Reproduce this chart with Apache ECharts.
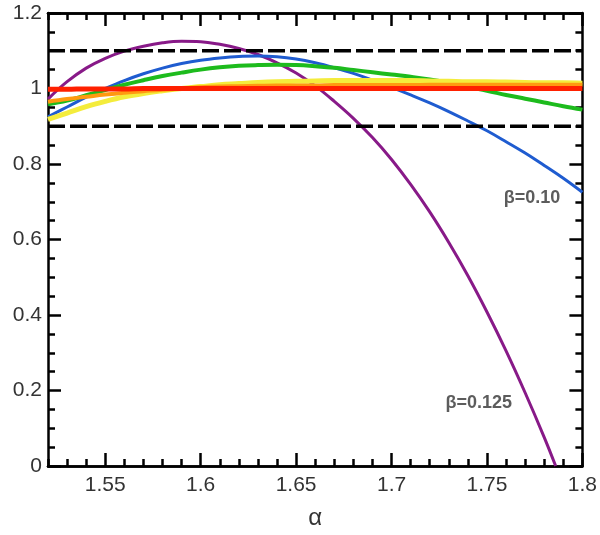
<!DOCTYPE html>
<html>
<head>
<meta charset="utf-8">
<script src="https://cdn.jsdelivr.net/npm/echarts@6/dist/echarts.min.js"></script>
<style>
html,body{margin:0;padding:0;background:#fff;}
#chart{width:600px;height:535px;}
</style>
</head>
<body>
<div id="chart"></div>
<script>
// ---- data ----
var alpha = [1.52,1.53,1.54,1.55,1.56,1.57,1.58,1.59,1.60,1.61,1.62,1.63,1.64,1.65,1.66,1.67,1.68,1.69,1.70,1.71,1.72,1.73,1.74,1.75,1.76,1.77,1.78,1.79,1.80];
var alphaPurple = [1.52,1.53,1.54,1.55,1.56,1.57,1.58,1.59,1.60,1.61,1.62,1.63,1.64,1.65,1.66,1.67,1.68,1.69,1.70,1.71,1.72,1.73,1.74,1.75,1.76,1.77,1.78,1.786];
var purpleVals = [0.972,1.018,1.054,1.080,1.099,1.112,1.121,1.125,1.124,1.117,1.106,1.090,1.068,1.041,1.007,0.966,0.921,0.870,0.812,0.746,0.673,0.592,0.504,0.408,0.305,0.194,0.076,0.0];
var blueVals   = [0.925,0.951,0.977,1.000,1.021,1.039,1.054,1.066,1.075,1.081,1.085,1.086,1.084,1.078,1.068,1.055,1.040,1.022,1.003,0.983,0.962,0.939,0.914,0.888,0.859,0.829,0.796,0.762,0.725];
var greenVals  = [0.958,0.968,0.982,0.996,1.010,1.022,1.033,1.042,1.050,1.056,1.060,1.062,1.063,1.062,1.059,1.055,1.049,1.043,1.037,1.031,1.024,1.015,1.004,0.994,0.983,0.973,0.963,0.953,0.944];
var yellowVals = [0.918,0.935,0.952,0.966,0.978,0.987,0.994,1.000,1.005,1.010,1.013,1.016,1.018,1.019,1.020,1.021,1.021,1.021,1.021,1.021,1.020,1.019,1.018,1.018,1.017,1.016,1.015,1.015,1.014];
var orangeVals = [0.965,0.972,0.978,0.984,0.989,0.993,0.997,1.000,1.003,1.005,1.006,1.007,1.008,1.008,1.008,1.009,1.009,1.009,1.009,1.009,1.010,1.010,1.010,1.010,1.010,1.010,1.010,1.010,1.010];
var redVals    = [0.998,0.998,0.999,0.999,0.999,1.000,1.000,1.000,1.000,1.000,1.000,1.000,1.000,1.000,1.000,1.000,1.000,1.000,1.000,1.000,1.000,1.000,1.000,1.000,1.000,1.000,1.000,1.000,1.000];
var boundX = [1.52, 1.80];
var upperBound = [1.1, 1.1];
var lowerBound = [0.9, 0.9];
var xMajorTicks = [1.55,1.60,1.65,1.70,1.75,1.80];
var xLabels = ['1.55','1.6','1.65','1.7','1.75','1.8'];
var annotations = [
  {text:'\u03b2=0.10', x:1.7736, y:0.710},
  {text:'\u03b2=0.125', x:1.7457, y:0.168}
];

function pairs(xs, ys){ var out=[]; for(var i=0;i<ys.length;i++){ out.push([xs[i], ys[i]]); } return out; }

var FONT = '"Liberation Sans", Arial, sans-serif';
var lineBlack = {color:'#000', width:2.5};

function xAxisDef(pos, major, showLabel){
  return {
    type:'value', position:pos, min:1.52, max:1.80,
    interval: major ? undefined : 0.01,
    axisLine:{show:true, onZero:false, lineStyle:lineBlack},
    axisTick: major ? {show:true, inside:true, length:13, lineStyle:{color:'#000', width:2.5}, customValues:xMajorTicks}
                    : {show:true, inside:true, length:7, lineStyle:{color:'#000', width:2.5}},
    axisLabel: showLabel ? {show:true, customValues:xMajorTicks, margin:9, color:'#333', fontSize:21, fontFamily:FONT,
                 formatter:function(v){ var i = xMajorTicks.indexOf(Math.round(v*100)/100); return i>=0 ? xLabels[i] : ''; }}
                         : {show:false},
    splitLine:{show:false},
    name: showLabel ? '\u03b1' : '',
    nameLocation:'middle', nameGap:40,
    nameTextStyle:{color:'#333', fontSize:24, fontFamily:FONT}
  };
}
function yAxisDef(pos, showLabel){
  return {
    type:'value', position:pos, min:0, max:1.2, interval:0.2,
    axisLine:{show:true, onZero:false, lineStyle:lineBlack},
    axisTick:{show:true, inside:true, length:13, lineStyle:{color:'#000', width:2.5}},
    minorTick:{show:true, splitNumber:4, length:7, lineStyle:{color:'#000', width:2.5}},
    axisLabel: showLabel ? {show:true, margin:6, color:'#333', fontSize:21, fontFamily:FONT} : {show:false},
    splitLine:{show:false}
  };
}

function curve(name, xs, ys, color, width, z){
  return {name:name, type:'line', xAxisIndex:0, yAxisIndex:0, data:pairs(xs, ys), smooth:0.4, symbol:'none',
          lineStyle:{color:color, width:width}, z:z, silent:true, animation:false};
}

var chart = echarts.init(document.getElementById('chart'), null, {renderer:'canvas'});
chart.setOption({
  animation:false,
  backgroundColor:'#fff',
  grid:{left:48, right:17, top:13, bottom:57, containLabel:false},
  xAxis:[xAxisDef('bottom', true, true), xAxisDef('bottom', false, false), xAxisDef('top', true, false), xAxisDef('top', false, false)],
  yAxis:[yAxisDef('left', true), yAxisDef('right', false)],
  series:[
    curve('purple', alphaPurple, purpleVals, '#881a88', 3, 2),
    curve('blue', alpha, blueVals, '#1f5cd0', 3, 3),
    curve('green', alpha, greenVals, '#1dbb1d', 4, 4),
    curve('yellow', alpha, yellowVals, '#f4ec3c', 5, 5),
    curve('orange', alpha, orangeVals, '#ff9a10', 4, 6),
    curve('red', alpha, redVals, '#ff2000', 5, 7),
    {type:'line', data:pairs(boundX, upperBound), symbol:'none', lineStyle:{color:'#000', width:3.5, type:[17,5]}, z:8, silent:true},
    {type:'line', data:pairs(boundX, lowerBound), symbol:'none', lineStyle:{color:'#000', width:3.5, type:[17,5]}, z:8, silent:true},
    {type:'scatter', data:annotations.map(function(a){ return {value:[a.x, a.y], label:{show:true, formatter:a.text}}; }),
     symbolSize:0, z:9, silent:true,
     label:{show:true, position:'inside', color:'#333', fontSize:18, fontWeight:'bold', fontFamily:FONT}}
  ]
});
</script>
</body>
</html>
